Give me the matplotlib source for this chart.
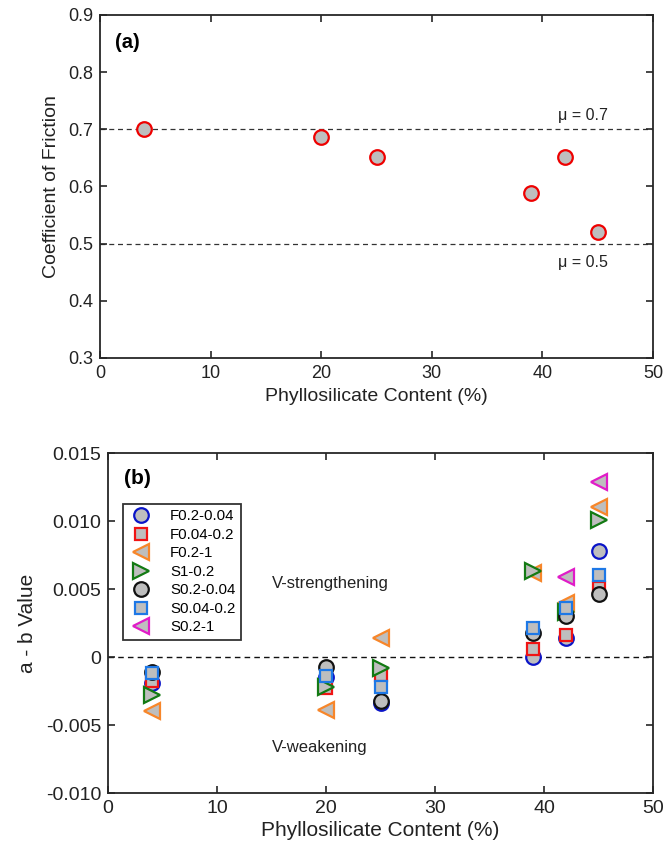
import matplotlib
matplotlib.use("Agg")
import matplotlib.pyplot as plt
from matplotlib.ticker import FixedLocator, FixedFormatter

plt.rcParams['font.family'] = ['Liberation Sans', 'DejaVu Sans']

# ---------------- data ----------------
phyllo = [4, 20, 25, 39, 42, 45]
friction = [0.701, 0.687, 0.651, 0.589, 0.651, 0.520]

series_names = ["F0.2-0.04", "F0.04-0.2", "F0.2-1", "S1-0.2",
                "S0.2-0.04", "S0.04-0.2", "S0.2-1"]

f02_004 = [-0.0019, -0.0015, -0.0034, 0.0000, 0.0014, 0.0078]
f004_02 = [-0.0018, -0.0023, -0.0013, 0.0006, 0.0016, 0.0051]
f02_1 = [-0.0040, -0.0039, 0.0014, 0.0062, 0.0040, 0.0110]
s1_02 = [-0.0028, -0.0022, -0.0008, 0.0063, 0.0033, 0.0101]
s02_004 = [-0.0011, -0.0007, -0.0032, 0.0018, 0.0030, 0.0046]
s004_02 = [-0.0012, -0.0014, -0.0022, 0.0021, 0.0036, 0.0060]
s02_1_x = [42, 45]
s02_1 = [0.0059, 0.0129]

xticks = [0, 10, 20, 30, 40, 50]
yticks_a = [0.3, 0.4, 0.5, 0.6, 0.7, 0.8, 0.9]
yticks_b = [-0.010, -0.005, 0, 0.005, 0.010, 0.015]
yticklabels_b = ["-0.010", "-0.005", "0", "0.005", "0.010", "0.015"]

# ---------------- styling ----------------
face = "#BEBEBE"
spine_col = "#262626"


def style_axes(ax, tick_size):
    for s in ax.spines.values():
        s.set_linewidth(1.3)
        s.set_color(spine_col)
    ax.tick_params(direction="in", length=5, width=1.2, colors=spine_col,
                   top=True, right=True, labelsize=tick_size,
                   labelcolor="#222222", pad=5)


fig = plt.figure(figsize=(6.67, 8.55), dpi=100)

# ---------------- panel (a) ----------------
ax1 = fig.add_axes([100 / 667, 1 - 358 / 855, 553 / 667, 343 / 855])
ax1.axhline(0.7, color="#333333", lw=0.9, ls=(0, (4, 3)), zorder=1)
ax1.axhline(0.5, color="#333333", lw=0.9, ls=(0, (4, 3)), zorder=1)
ax1.plot(phyllo, friction, ls="none", marker="o", ms=10.5,
         mfc=face, mec="#EE0000", mew=1.6, zorder=3)
ax1.set_xlim(0, 50)
ax1.set_ylim(0.3, 0.9)
ax1.xaxis.set_major_locator(FixedLocator(xticks))
ax1.yaxis.set_major_locator(FixedLocator(yticks_a))
ax1.yaxis.set_major_formatter(FixedFormatter([f"{v:.1f}" for v in yticks_a]))
style_axes(ax1, 13)
ax1.set_xlabel("Phyllosilicate Content (%)", fontsize=14, color="#222222", labelpad=4)
ax1.set_ylabel("Coefficient of Friction", fontsize=14, color="#222222", labelpad=6)
ax1.text(0.027, 0.921, "(a)", transform=ax1.transAxes, fontsize=14.5,
         fontweight="bold", va="center", ha="left")
ax1.text(41.4, 0.725, "μ = 0.7", fontsize=11.5, va="center", ha="left", color="#222222")
ax1.text(41.4, 0.467, "μ = 0.5", fontsize=11.5, va="center", ha="left", color="#222222")

# ---------------- panel (b) ----------------
ax2 = fig.add_axes([108 / 667, 1 - 793 / 855, 545 / 667, 340 / 855])
ax2.axhline(0, color="#111111", lw=1.0, ls=(0, (4, 3)), zorder=1)

specs = [
    (phyllo, f02_004, "o", 10.5, "#0A14C8"),
    (phyllo, f004_02, "s", 9.0, "#F01414"),
    (phyllo, f02_1, "<", 11.0, "#F7862A"),
    (phyllo, s1_02, ">", 11.0, "#137A13"),
    (phyllo, s02_004, "o", 10.5, "#111111"),
    (phyllo, s004_02, "s", 9.0, "#1E78E6"),
    (s02_1_x, s02_1, "<", 11.0, "#E01CC8"),
]
for (xs, ys, mk, ms, ec), name in zip(specs, series_names):
    ax2.plot(xs, ys, ls="none", marker=mk, ms=ms, mfc=face, mec=ec,
             mew=1.6, label=name, zorder=3)

ax2.set_xlim(0, 50)
ax2.set_ylim(-0.010, 0.015)
ax2.xaxis.set_major_locator(FixedLocator(xticks))
ax2.yaxis.set_major_locator(FixedLocator(yticks_b))
ax2.yaxis.set_major_formatter(FixedFormatter(yticklabels_b))
style_axes(ax2, 14)
ax2.set_xlabel("Phyllosilicate Content (%)", fontsize=15, color="#222222", labelpad=3)
ax2.set_ylabel("a - b Value", fontsize=15, color="#222222", labelpad=6)
ax2.text(0.030, 0.9256, "(b)", transform=ax2.transAxes, fontsize=15,
         fontweight="bold", va="center", ha="left")
ax2.text(15, 0.00544, "V-strengthening", fontsize=12, va="center", ha="left", color="#222222")
ax2.text(15, -0.00669, "V-weakening", fontsize=12, va="center", ha="left", color="#222222")

leg = ax2.legend(loc="upper left", bbox_to_anchor=(0.027, 0.85), fontsize=10.8,
                 frameon=True, fancybox=False, framealpha=1, edgecolor="#333333",
                 borderpad=0.35, labelspacing=0.3, handlelength=1.8,
                 handletextpad=1.0, borderaxespad=0)
leg.get_frame().set_linewidth(1.3)

fig.savefig("out.png", dpi=100)
